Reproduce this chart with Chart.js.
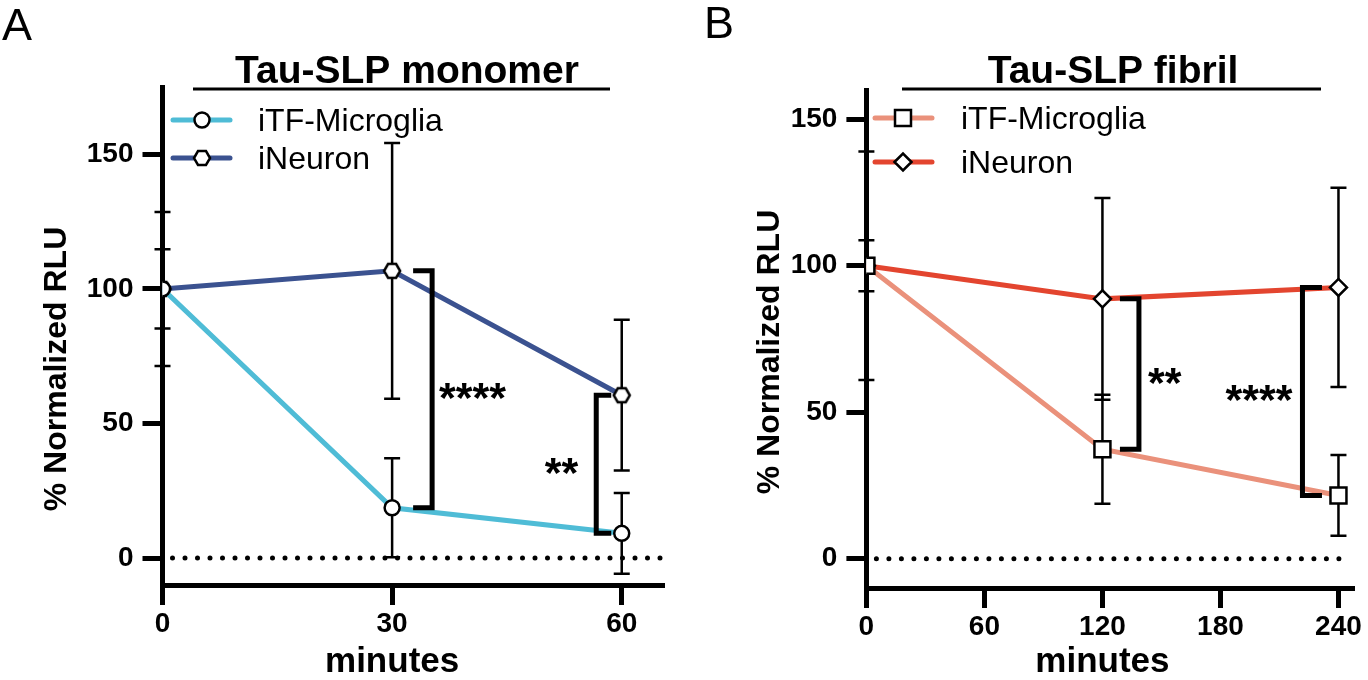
<!DOCTYPE html>
<html>
<head>
<meta charset="utf-8">
<script src="https://cdn.jsdelivr.net/npm/chart.js@4.4.1/dist/chart.umd.min.js"></script>
<style>
  html, body { margin: 0; padding: 0; background: #fff; overflow: hidden; }
  .panel { position: absolute; top: 0; width: 684px; height: 680px; }
  #panelA { left: 0; }
  #panelB { left: 684px; }
</style>
</head>
<body>
<div class="panel" id="panelA"><canvas id="chartA"></canvas></div>
<div class="panel" id="panelB"><canvas id="chartB"></canvas></div>
<script>
// Panel A — Tau-SLP monomer
const minutesA = [0, 30, 60];
const xTicksA = [0, 30, 60];
const yTicksA = [0, 50, 100, 150];
const microgliaA = [100, 18.7, 9.2];
const microgliaErrA = [14.7, 18.4, 15];
const neuronA = [100, 106.7, 60.5];
const neuronErrA = [28.6, 47.5, 28];
const sigA = ['', '****', '**'];

// Panel B — Tau-SLP fibril
const minutesB = [0, 120, 240];
const xTicksB = [0, 60, 120, 180, 240];
const yTicksB = [0, 50, 100, 150];
const microgliaB = [100, 37.4, 21.6];
const microgliaErrB = [8.7, 18.6, 13.8];
const neuronB = [100, 88.7, 92.6];
const neuronErrB = [39, 34.4, 34];
const sigB = ['', '**', '****'];

const seriesNames = ['iTF-Microglia', 'iNeuron'];
const FONT = '"Liberation Sans", Arial, Helvetica, sans-serif';

function hexagonImage(r) {
  const c = document.createElement('canvas');
  const s = Math.ceil(2 * r + 6);
  c.width = c.height = s;
  const g = c.getContext('2d');
  g.beginPath();
  for (let k = 0; k < 6; k++) {
    const a = Math.PI / 3 * k;
    const px = s / 2 + r * Math.cos(a), py = s / 2 + r * Math.sin(a);
    k ? g.lineTo(px, py) : g.moveTo(px, py);
  }
  g.closePath();
  g.fillStyle = '#fff'; g.fill();
  g.lineWidth = 2.5; g.strokeStyle = '#000'; g.stroke();
  return c;
}
const hex = hexagonImage(8);

function drawMarker(ctx, style, r, cx, cy) {
  if (typeof style !== 'string') { ctx.drawImage(style, cx - style.width / 2, cy - style.height / 2); return; }
  ctx.beginPath();
  if (style === 'circle') ctx.arc(cx, cy, r, 0, Math.PI * 2);
  else if (style === 'rect') { const s = r * Math.SQRT1_2; ctx.rect(cx - s, cy - s, 2 * s, 2 * s); }
  else { ctx.moveTo(cx - r, cy); ctx.lineTo(cx, cy - r); ctx.lineTo(cx + r, cy); ctx.lineTo(cx, cy + r); ctx.closePath(); }
  ctx.fillStyle = '#fff'; ctx.fill();
  ctx.lineWidth = 2.5; ctx.strokeStyle = '#000'; ctx.stroke();
}

// dotted zero line + SD bars, under the lines/symbols
const underlay = {
  id: 'underlay',
  beforeDatasetsDraw(chart) {
    const { ctx, chartArea: a, scales: { x, y } } = chart;
    ctx.save();
    ctx.strokeStyle = '#000';
    ctx.setLineDash([0, 12.5]);
    ctx.lineCap = 'round';
    ctx.lineWidth = 5;
    ctx.beginPath();
    ctx.moveTo(a.left + 10, y.getPixelForValue(0));
    ctx.lineTo(a.right - 4, y.getPixelForValue(0));
    ctx.stroke();
    ctx.setLineDash([]);
    ctx.lineCap = 'butt';
    ctx.lineWidth = 2.5;
    chart.data.datasets.forEach(ds => {
      ds.data.forEach((pt, i) => {
        const e = ds.errors[i];
        const px = x.getPixelForValue(pt.x);
        const hi = y.getPixelForValue(pt.y + e), lo = y.getPixelForValue(pt.y - e);
        ctx.beginPath();
        ctx.moveTo(px, hi); ctx.lineTo(px, lo);
        ctx.moveTo(px - 8, hi); ctx.lineTo(px + 8, hi);
        ctx.moveTo(px - 8, lo); ctx.lineTo(px + 8, lo);
        ctx.stroke();
      });
    });
    ctx.restore();
  }
};

// significance brackets between the two series
const brackets = {
  id: 'brackets',
  afterDatasetsDraw(chart, args, o) {
    const { ctx, scales: { x, y } } = chart;
    const [m, n] = chart.data.datasets;
    ctx.save();
    ctx.strokeStyle = '#000';
    ctx.fillStyle = '#000';
    ctx.lineWidth = 5;
    ctx.lineJoin = 'miter';
    ctx.font = `bold 43px ${FONT}`;
    ctx.textBaseline = 'alphabetic';
    o.items.forEach(b => {
      const px = x.getPixelForValue(m.data[b.i].x);
      const top = y.getPixelForValue(n.data[b.i].y), bot = y.getPixelForValue(m.data[b.i].y);
      const vx = px + b.side * b.off, sx = vx - b.side * b.stub;
      ctx.beginPath();
      ctx.moveTo(sx, top); ctx.lineTo(vx, top); ctx.lineTo(vx, bot); ctx.lineTo(sx, bot);
      ctx.stroke();
      ctx.textAlign = b.side > 0 ? 'left' : 'right';
      ctx.fillText(o.labels[b.i], vx + b.side * b.gap, (top + bot) / 2 + 23);
    });
    ctx.restore();
  }
};

// panel letter, title with rule, legend, axis titles
const decor = {
  id: 'decor',
  afterDraw(chart, args, o) {
    const { ctx, scales: { x } } = chart;
    ctx.save();
    ctx.fillStyle = '#000';
    ctx.font = `300 45px ${FONT}`;
    ctx.textAlign = 'left';
    ctx.textBaseline = 'alphabetic';
    ctx.fillText(o.letter, o.letterX, o.letterY);

    ctx.font = `bold 39px ${FONT}`;
    ctx.textAlign = 'center';
    ctx.fillText(o.title, o.titleX, 83);
    ctx.fillRect(o.ruleX0, 87.5, o.ruleX1 - o.ruleX0, 3);

    const ds0 = chart.data.datasets[0].data;
    const mid = (ds0[0].x + ds0[ds0.length - 1].x) / 2;
    ctx.font = `bold 35px ${FONT}`;
    ctx.fillText('minutes', x.getPixelForValue(mid), 672);

    ctx.save();
    ctx.translate(o.yTitleX, o.yTitleY);
    ctx.rotate(-Math.PI / 2);
    ctx.font = `bold 32px ${FONT}`;
    ctx.textBaseline = 'middle';
    ctx.fillText('% Normalized RLU', 0, 0);
    ctx.restore();

    ctx.font = `32px ${FONT}`;
    ctx.textAlign = 'left';
    ctx.textBaseline = 'middle';
    chart.data.datasets.forEach((ds, k) => {
      const ry = o.rows[k];
      ctx.strokeStyle = ds.borderColor;
      ctx.lineWidth = 5;
      ctx.lineCap = 'round';
      ctx.beginPath();
      ctx.moveTo(o.lx0, ry); ctx.lineTo(o.lx1, ry);
      ctx.stroke();
      drawMarker(ctx, ds.pointStyle, ds.pointRadius, o.mx, ry);
      ctx.fillStyle = '#000';
      ctx.fillText(ds.label, o.tx, ry + 2);
    });
    ctx.restore();
  }
};

function series(label, xs, ys, errs, color, style, radius) {
  return {
    label, errors: errs,
    data: xs.map((m, i) => ({ x: m, y: ys[i] })),
    borderColor: color, borderWidth: 5, tension: 0,
    pointStyle: style, pointRadius: radius, pointHoverRadius: radius,
    pointBackgroundColor: '#fff', pointBorderColor: '#000', pointBorderWidth: 2.5
  };
}

function buildChart(id, p) {
  const tickFont = { family: FONT, weight: 'bold', size: 28 };
  return new Chart(document.getElementById(id), {
    type: 'line',
    data: { datasets: p.datasets },
    options: {
      responsive: true, maintainAspectRatio: false, animation: false,
      layout: { padding: p.padding },
      scales: {
        x: {
          type: 'linear', min: 0, max: p.xMax,
          afterBuildTicks: s => { s.ticks = p.xTicks.map(v => ({ value: v })); },
          afterFit: s => { s.height = p.xHeight; s.paddingLeft = 0; s.paddingRight = 0; },
          grid: { drawOnChartArea: false, drawTicks: true, tickLength: 20, tickWidth: 5, tickColor: '#000' },
          border: { width: 5, color: '#000' },
          ticks: { color: '#000', font: tickFont, padding: 2, maxRotation: 0, autoSkip: false }
        },
        y: {
          type: 'linear', min: -10, max: p.yMax,
          afterBuildTicks: s => { s.ticks = p.yTicks.map(v => ({ value: v })); },
          afterFit: s => { s.width = p.yWidth; s.paddingTop = 0; s.paddingBottom = 0; },
          grid: { drawOnChartArea: false, drawTicks: true, tickLength: 20, tickWidth: 5, tickColor: '#000' },
          border: { width: 5, color: '#000' },
          ticks: { color: '#000', font: tickFont, padding: 9 }
        }
      },
      plugins: {
        legend: { display: false },
        tooltip: { enabled: false },
        brackets: { items: p.brackets, labels: p.sig },
        decor: p.decor
      }
    },
    plugins: [underlay, brackets, decor]
  });
}

buildChart('chartA', {
  datasets: [
    series(seriesNames[0], minutesA, microgliaA, microgliaErrA, '#4FBCD6', 'circle', 7.5),
    series(seriesNames[1], minutesA, neuronA, neuronErrA, '#3B5290', hex, 8)
  ],
  xTicks: xTicksA, yTicks: yTicksA, xMax: 65.6, yMax: 175,
  padding: { left: 38, top: 87, right: 19.4, bottom: 0 }, yWidth: 124.5, xHeight: 95,
  sig: sigA,
  brackets: [
    { i: 1, side: 1, off: 40, stub: 19, gap: 7 },
    { i: 2, side: -1, off: 25.5, stub: 15, gap: 18 }
  ],
  decor: { letter: 'A', letterX: 2, letterY: 40, title: 'Tau-SLP monomer', titleX: 407, ruleX0: 193, ruleX1: 610,
           yTitleX: 57, yTitleY: 369,
           lx0: 173, lx1: 230, mx: 202, tx: 258, rows: [120, 158] }
});

buildChart('chartB', {
  datasets: [
    series(seriesNames[0], minutesB, microgliaB, microgliaErrB, '#EA917B', 'rect', 11.3),
    series(seriesNames[1], minutesB, neuronB, neuronErrB, '#E3452F', 'rectRot', 8.5)
  ],
  xTicks: xTicksB, yTicks: yTicksB, xMax: 248, yMax: 160,
  padding: { left: 67, top: 90, right: 2, bottom: 0 }, yWidth: 115.4, xHeight: 92,
  sig: sigB,
  brackets: [
    { i: 1, side: 1, off: 36.5, stub: 19, gap: 9 },
    { i: 2, side: -1, off: 36, stub: 19.5, gap: 10 }
  ],
  decor: { letter: 'B', letterX: 20, letterY: 38, title: 'Tau-SLP fibril', titleX: 429, ruleX0: 218, ruleX1: 637,
           yTitleX: 86, yTitleY: 352,
           lx0: 191, lx1: 248, mx: 219, tx: 277, rows: [118, 162] }
});
</script>
</body>
</html>
